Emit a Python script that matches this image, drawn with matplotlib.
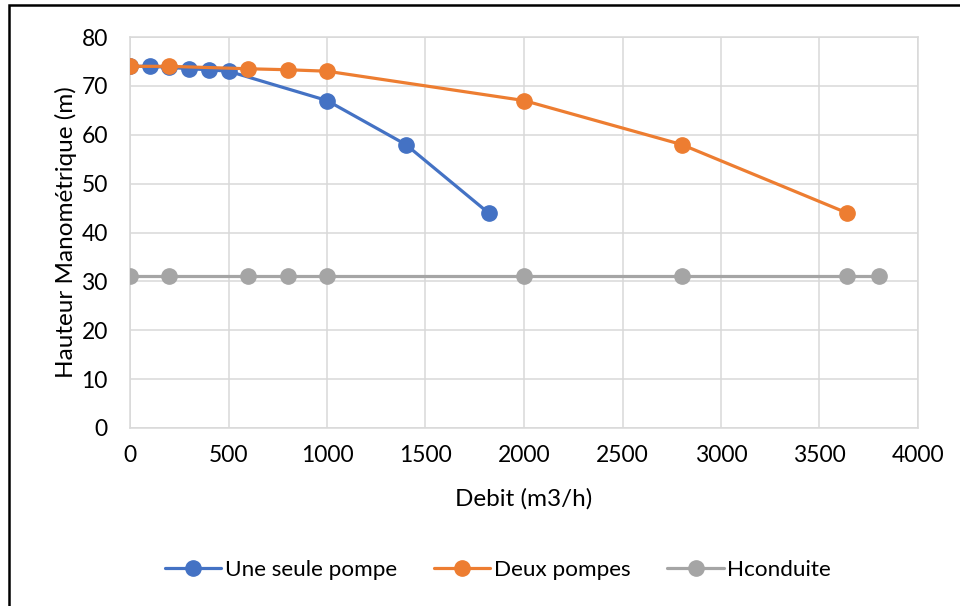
import matplotlib
matplotlib.use("Agg")
import matplotlib.pyplot as plt
from matplotlib.patches import Rectangle

plt.rcParams['font.family'] = ['Lato', 'DejaVu Sans']

# Pump characteristic curves and pipe head
q_une = [0, 100, 200, 300, 400, 500, 1000, 1400, 1820]
h_une = [74, 74, 73.8, 73.5, 73.3, 73, 67, 58, 44]

q_deux = [0, 200, 600, 800, 1000, 2000, 2800, 3640]
h_deux = [74, 74, 73.5, 73.3, 73, 67, 58, 44]

q_cond = [0, 200, 600, 800, 1000, 2000, 2800, 3640, 3800]
h_cond = [31, 31, 31, 31, 31, 31, 31, 31, 31]

x_ticks = [0, 500, 1000, 1500, 2000, 2500, 3000, 3500, 4000]
y_ticks = [0, 10, 20, 30, 40, 50, 60, 70, 80]

fig = plt.figure(figsize=(9.6, 6.06), dpi=100)
ax = fig.add_axes([130/960, 1-428/606, (918-130)/960, (428-37)/606])

style = dict(lw=2.3, marker='o', markersize=11, solid_capstyle='round')
ax.plot(q_cond, h_cond, color='#a5a5a5', label='Hconduite', zorder=3, **style)
ax.plot(q_une, h_une, color='#4472c4', label='Une seule pompe', zorder=4, **style)
ax.plot(q_deux, h_deux, color='#ed7d31', label='Deux pompes', zorder=5, **style)

ax.set_xlim(0, 4000)
ax.set_ylim(0, 80)
ax.set_xticks(x_ticks)
ax.set_yticks(y_ticks)
ax.grid(True, color='#d9d9d9', lw=1.1)
ax.set_axisbelow(True)
for s in ax.spines.values():
    s.set_color('#d9d9d9')
    s.set_linewidth(1.1)
ax.tick_params(length=0, labelsize=16.5, colors='black')
ax.tick_params(axis='x', pad=12)
ax.tick_params(axis='y', pad=16)
ax.set_xlabel('Debit (m3/h)', fontsize=17.5, labelpad=16)
ax.set_ylabel('Hauteur Manométrique (m)', fontsize=17.5, labelpad=3)

handles, labels = ax.get_legend_handles_labels()
order = [1, 2, 0]
fig.legend([handles[i] for i in order], [labels[i] for i in order],
           loc='center', bbox_to_anchor=(498/960, 1-570/606), ncol=3,
           frameon=False, fontsize=16.2, handlelength=2.5, columnspacing=1.65,
           handletextpad=0.15)

# outer frame
fig.patches.append(Rectangle((9/960, -0.5), 2.0, 1.5 - 5/606, transform=fig.transFigure,
                             fill=False, edgecolor='black', lw=1.8, clip_on=False))

fig.savefig('out.png', dpi=100)
